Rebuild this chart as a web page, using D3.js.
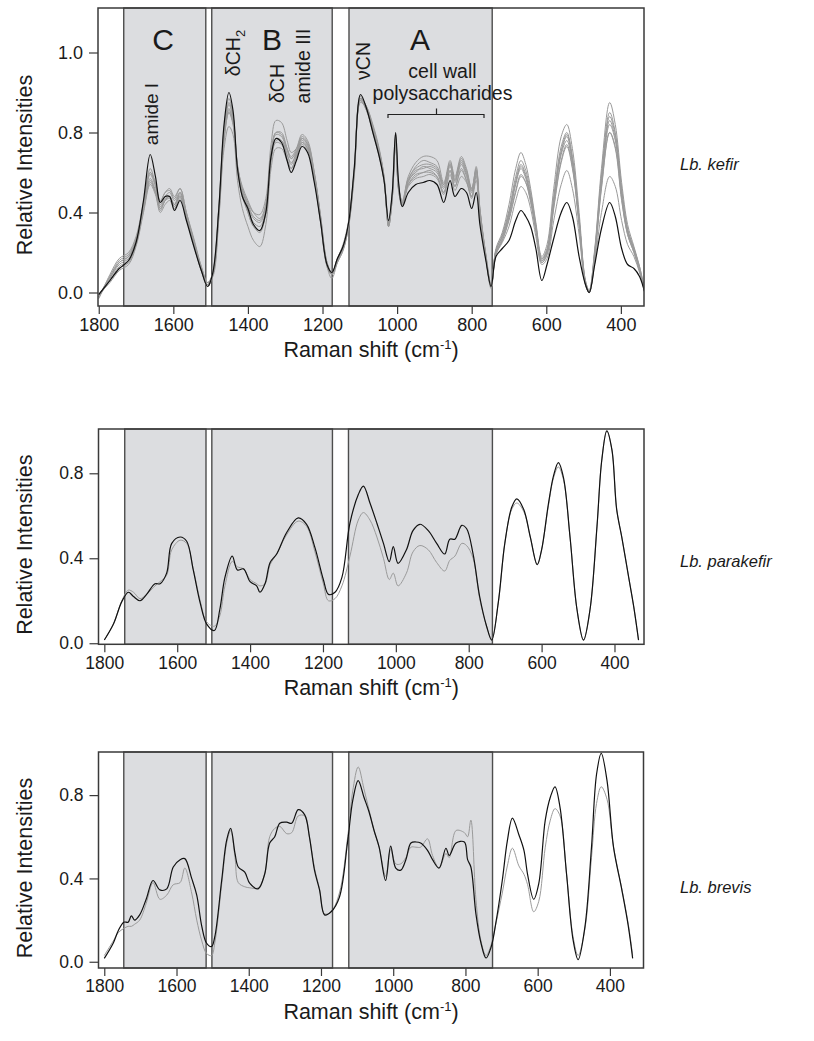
<!DOCTYPE html>
<html>
<head>
<meta charset="utf-8">
<script src="https://cdn.jsdelivr.net/npm/d3@7"></script>
<style>
body { margin: 0; background: #fff; }
svg text { font-family: "Liberation Sans", Arial, Helvetica, sans-serif; fill: #1a1a1a; }
</style>
</head>
<body>
<svg id="chart" width="814" height="1041"></svg>
<script>
// ---- data ----
var xTicks = [1800, 1600, 1400, 1200, 1000, 800, 600, 400]
var yTicksTop = [0, 0.4, 0.8, 1.2]
var yTickLabelsTop = ["0.0", "0.4", "0.8", "1.0"]
var yTicks = [0, 0.4, 0.8]
var yTickLabels = ["0.0", "0.4", "0.8"]
var regionNames = ["C", "B", "A"]

// Lb. kefir
var kefirShift = [1800,1770,1745,1720,1700,1680,1662,1648,1635,1622,1610,1597,1582,1565,1545,1525,1508,1494,1478,1464,
    1451,1440,1428,1415,1400,1385,1368,1352,1338,1325,1310,1295,1284,1270,1255,1240,1222,1205,1188,1175,
    1160,1145,1130,1115,1098,1082,1065,1048,1035,1023,1013,1004,996,986,970,950,930,912,893,875,
    858,845,828,814,800,788,778,762,748,735,718,700,682,668,655,642,628,612,598,580,
    560,545,530,512,495,485,470,452,430,415,398,382,365,350,336]
var kefirBlack = [-0.01,0.06,0.12,0.16,0.25,0.46,0.69,0.58,0.45,0.48,0.48,0.41,0.46,0.36,0.23,0.11,0.03,0.10,0.42,0.84,
    1.00,0.91,0.62,0.48,0.42,0.34,0.31,0.40,0.68,0.77,0.75,0.66,0.60,0.66,0.73,0.70,0.55,0.35,0.14,0.10,
    0.17,0.23,0.35,0.62,0.99,0.92,0.80,0.68,0.56,0.36,0.50,0.80,0.55,0.43,0.50,0.54,0.55,0.56,0.54,0.45,
    0.56,0.48,0.52,0.50,0.42,0.50,0.34,0.16,0.03,0.18,0.22,0.26,0.36,0.41,0.38,0.33,0.22,0.06,0.14,0.27,
    0.40,0.45,0.38,0.18,0.04,0.00,0.14,0.32,0.45,0.38,0.22,0.14,0.12,0.08,0.00]
var kefirGray1 = [-0.03,0.08,0.16,0.19,0.27,0.44,0.60,0.54,0.45,0.50,0.51,0.47,0.52,0.40,0.27,0.13,0.05,0.10,0.38,0.76,
    0.90,0.85,0.64,0.52,0.45,0.40,0.39,0.47,0.74,0.86,0.85,0.76,0.70,0.72,0.78,0.75,0.60,0.38,0.15,0.10,
    0.17,0.24,0.36,0.61,0.97,0.93,0.84,0.72,0.58,0.33,0.47,0.74,0.52,0.46,0.58,0.65,0.68,0.68,0.66,0.55,
    0.66,0.58,0.68,0.62,0.52,0.62,0.42,0.19,0.04,0.22,0.30,0.44,0.62,0.70,0.64,0.52,0.35,0.18,0.24,0.52,
    0.78,0.84,0.72,0.40,0.06,0.01,0.22,0.62,0.95,0.84,0.55,0.34,0.23,0.13,0.01]
var kefirGray2 = [-0.02,0.07,0.15,0.18,0.26,0.42,0.56,0.50,0.41,0.46,0.48,0.44,0.50,0.39,0.26,0.12,0.04,0.09,0.40,0.80,
    0.95,0.88,0.63,0.50,0.40,0.33,0.30,0.40,0.66,0.76,0.76,0.69,0.64,0.70,0.77,0.74,0.59,0.37,0.14,0.09,
    0.16,0.22,0.34,0.60,0.97,0.92,0.81,0.69,0.57,0.34,0.48,0.77,0.52,0.44,0.56,0.60,0.63,0.62,0.60,0.52,
    0.64,0.55,0.64,0.58,0.50,0.61,0.40,0.18,0.03,0.21,0.28,0.39,0.55,0.63,0.58,0.48,0.33,0.17,0.21,0.46,
    0.70,0.78,0.66,0.36,0.05,0.00,0.20,0.56,0.86,0.77,0.50,0.31,0.21,0.12,0.00]
var kefirGray3 = [-0.01,0.05,0.11,0.14,0.23,0.40,0.54,0.49,0.40,0.44,0.46,0.42,0.47,0.37,0.24,0.11,0.05,0.08,0.37,0.72,
    0.83,0.79,0.56,0.42,0.33,0.26,0.23,0.34,0.62,0.72,0.72,0.66,0.62,0.68,0.74,0.71,0.56,0.35,0.13,0.07,
    0.15,0.21,0.33,0.59,0.96,0.91,0.80,0.68,0.56,0.35,0.49,0.78,0.53,0.45,0.54,0.59,0.60,0.61,0.58,0.50,
    0.61,0.53,0.62,0.56,0.48,0.59,0.39,0.17,0.02,0.19,0.26,0.36,0.50,0.58,0.55,0.46,0.31,0.15,0.19,0.42,
    0.65,0.73,0.62,0.34,0.04,0.00,0.18,0.52,0.80,0.72,0.46,0.29,0.20,0.11,0.00]
var kefirGray4 = [-0.02,0.08,0.15,0.18,0.26,0.44,0.59,0.53,0.44,0.48,0.50,0.46,0.50,0.39,0.25,0.12,0.04,0.10,0.42,0.80,
    0.94,0.87,0.62,0.51,0.44,0.38,0.36,0.44,0.70,0.79,0.78,0.71,0.67,0.71,0.77,0.74,0.58,0.36,0.15,0.10,
    0.16,0.23,0.35,0.61,0.97,0.92,0.82,0.70,0.57,0.33,0.47,0.75,0.51,0.43,0.55,0.61,0.62,0.63,0.61,0.53,
    0.63,0.56,0.65,0.59,0.51,0.60,0.41,0.18,0.03,0.20,0.27,0.38,0.54,0.62,0.57,0.47,0.32,0.16,0.20,0.45,
    0.69,0.76,0.65,0.35,0.05,0.00,0.19,0.55,0.84,0.76,0.49,0.30,0.21,0.12,0.00]
var kefirGray5 = [-0.02,0.06,0.13,0.16,0.24,0.42,0.57,0.51,0.42,0.46,0.48,0.44,0.48,0.37,0.24,0.11,0.03,0.09,0.41,0.79,
    0.92,0.85,0.61,0.49,0.41,0.35,0.33,0.41,0.67,0.77,0.76,0.69,0.65,0.69,0.75,0.72,0.57,0.36,0.14,0.09,
    0.16,0.22,0.34,0.60,0.96,0.91,0.81,0.69,0.56,0.34,0.48,0.76,0.52,0.44,0.53,0.57,0.58,0.59,0.57,0.49,
    0.59,0.51,0.58,0.55,0.47,0.56,0.38,0.17,0.03,0.19,0.25,0.33,0.46,0.53,0.50,0.42,0.28,0.14,0.17,0.36,
    0.54,0.61,0.52,0.29,0.04,0.00,0.15,0.40,0.58,0.53,0.36,0.24,0.18,0.10,0.00]
var kefirGray6 = [-0.03,0.09,0.17,0.20,0.28,0.45,0.60,0.55,0.46,0.50,0.52,0.48,0.52,0.40,0.26,0.13,0.05,0.09,0.39,0.77,
    0.90,0.84,0.63,0.53,0.46,0.40,0.37,0.44,0.69,0.80,0.79,0.72,0.68,0.72,0.79,0.76,0.60,0.38,0.15,0.09,
    0.15,0.21,0.33,0.58,0.95,0.92,0.83,0.71,0.58,0.35,0.49,0.77,0.53,0.45,0.57,0.62,0.64,0.64,0.62,0.54,
    0.64,0.56,0.66,0.60,0.51,0.63,0.41,0.19,0.04,0.21,0.29,0.41,0.58,0.66,0.61,0.50,0.34,0.17,0.22,0.48,
    0.73,0.80,0.68,0.37,0.06,0.01,0.21,0.59,0.90,0.80,0.52,0.32,0.22,0.13,0.01]
var kefirGray7 = [-0.01,0.06,0.12,0.15,0.24,0.43,0.62,0.54,0.43,0.47,0.48,0.43,0.48,0.37,0.24,0.11,0.03,0.10,0.43,0.82,
    0.97,0.89,0.61,0.48,0.40,0.33,0.31,0.39,0.66,0.75,0.74,0.67,0.62,0.68,0.75,0.72,0.57,0.35,0.13,0.09,
    0.17,0.23,0.35,0.61,0.98,0.92,0.81,0.69,0.56,0.34,0.50,0.79,0.54,0.45,0.54,0.58,0.60,0.60,0.58,0.50,
    0.61,0.53,0.61,0.56,0.48,0.58,0.39,0.17,0.03,0.20,0.26,0.37,0.51,0.59,0.55,0.45,0.31,0.15,0.19,0.43,
    0.66,0.74,0.63,0.34,0.04,0.00,0.18,0.53,0.80,0.73,0.47,0.29,0.20,0.11,0.00]
var kefirGray8 = [-0.02,0.07,0.14,0.17,0.25,0.41,0.55,0.50,0.42,0.46,0.47,0.44,0.49,0.38,0.25,0.12,0.04,0.09,0.40,0.78,
    0.91,0.86,0.63,0.51,0.43,0.37,0.35,0.43,0.69,0.80,0.80,0.72,0.67,0.70,0.76,0.73,0.59,0.37,0.14,0.10,
    0.17,0.22,0.34,0.60,0.97,0.93,0.83,0.71,0.57,0.33,0.47,0.74,0.51,0.43,0.56,0.63,0.66,0.65,0.63,0.54,
    0.65,0.57,0.67,0.61,0.52,0.61,0.42,0.18,0.03,0.21,0.28,0.40,0.56,0.64,0.59,0.48,0.33,0.16,0.21,0.47,
    0.71,0.79,0.67,0.36,0.05,0.00,0.20,0.57,0.88,0.79,0.51,0.31,0.22,0.12,0.00]
var kefirRegions = [[1733, 1513], [1497, 1174], [1129, 745]]

// Lb. parakefir
var parakefirShift = [1800,1775,1752,1734,1720,1702,1684,1661,1647,1629,1615,1592,1574,1556,1537,1519,1498,1483,1469,1449,
    1435,1418,1400,1382,1373,1359,1345,1327,1300,1268,1245,1222,1199,1185,1167,1148,1126,1103,1089,1071,
    1052,1034,1018,1007,994,971,953,934,911,888,866,852,838,819,806,788,770,751,737,719,
    701,682,668,649,631,612,600,581,567,554,540,522,503,485,467,448,435,421,407,394,
    380,361,347,334]
var parakefirBlack = [0.015,0.09,0.196,0.24,0.22,0.20,0.23,0.28,0.28,0.33,0.47,0.50,0.48,0.345,0.19,0.09,0.06,0.16,0.31,0.41,
    0.345,0.35,0.29,0.27,0.24,0.28,0.38,0.42,0.52,0.59,0.56,0.45,0.30,0.23,0.24,0.31,0.565,0.70,0.74,0.66,
    0.565,0.47,0.384,0.455,0.376,0.44,0.53,0.56,0.53,0.47,0.42,0.49,0.49,0.555,0.54,0.42,0.22,0.08,0.015,0.19,
    0.47,0.64,0.68,0.63,0.50,0.37,0.44,0.66,0.79,0.85,0.78,0.50,0.16,0.015,0.16,0.55,0.86,1.00,0.91,0.63,
    0.50,0.31,0.17,0.015]
var parakefirGray = [0.015,0.09,0.20,0.25,0.24,0.21,0.23,0.27,0.29,0.32,0.44,0.485,0.47,0.35,0.20,0.10,0.08,0.13,0.27,0.385,
    0.36,0.35,0.30,0.28,0.27,0.28,0.37,0.42,0.51,0.575,0.55,0.43,0.28,0.20,0.21,0.27,0.41,0.58,0.615,0.58,
    0.50,0.40,0.30,0.33,0.27,0.33,0.43,0.46,0.44,0.38,0.34,0.39,0.41,0.47,0.46,0.40,0.21,0.08,0.02,0.19,
    0.47,0.63,0.66,0.62,0.50,0.37,0.44,0.65,0.78,0.83,0.77,0.50,0.16,0.015,0.16,0.55,0.86,1.00,0.91,0.63,
    0.50,0.31,0.17,0.015]
var parakefirRegions = [[1744, 1521], [1505, 1174], [1130, 735]]

// Lb. brevis
var brevisShift = [1800,1775,1761,1746,1734,1725,1716,1702,1684,1665,1646,1627,1609,1590,1577,1558,1544,1530,1517,1503,
    1494,1475,1461,1450,1438,1429,1411,1397,1374,1356,1342,1328,1314,1295,1281,1263,1245,1232,1218,1204,
    1190,1172,1149,1126,1112,1097,1081,1067,1053,1039,1021,1007,993,979,965,951,937,924,905,891,
    873,854,845,826,803,794,785,771,757,743,729,716,698,684,670,652,638,628,611,597,
    579,565,552,538,520,502,488,469,451,437,424,408,390,367,349,337]
var brevisBlack = [0.016,0.09,0.15,0.19,0.19,0.22,0.20,0.225,0.30,0.39,0.345,0.35,0.455,0.49,0.495,0.40,0.32,0.17,0.09,0.073,
    0.12,0.39,0.585,0.64,0.52,0.455,0.43,0.376,0.35,0.42,0.57,0.60,0.665,0.67,0.665,0.73,0.705,0.60,0.44,0.345,
    0.225,0.24,0.31,0.58,0.775,0.87,0.79,0.72,0.63,0.55,0.39,0.555,0.45,0.44,0.49,0.57,0.575,0.57,0.535,0.49,
    0.45,0.545,0.51,0.57,0.575,0.49,0.455,0.23,0.09,0.018,0.07,0.185,0.39,0.58,0.69,0.61,0.535,0.42,0.30,0.375,
    0.68,0.79,0.84,0.74,0.42,0.105,0.01,0.17,0.55,0.90,1.00,0.87,0.55,0.345,0.17,0.016]
var brevisGray = [0.03,0.10,0.14,0.16,0.17,0.17,0.18,0.20,0.28,0.38,0.30,0.32,0.37,0.38,0.45,0.33,0.20,0.10,0.04,0.03,
    0.09,0.37,0.57,0.63,0.50,0.38,0.36,0.355,0.355,0.42,0.60,0.64,0.65,0.615,0.62,0.70,0.70,0.60,0.45,0.35,
    0.23,0.24,0.33,0.60,0.82,0.935,0.83,0.73,0.63,0.55,0.41,0.54,0.47,0.47,0.50,0.55,0.55,0.55,0.59,0.51,
    0.45,0.52,0.50,0.63,0.62,0.60,0.68,0.30,0.10,0.03,0.08,0.18,0.33,0.46,0.545,0.46,0.42,0.37,0.24,0.29,
    0.55,0.68,0.735,0.70,0.42,0.12,0.03,0.16,0.50,0.76,0.84,0.78,0.55,0.35,0.18,0.03]
var brevisRegions = [[1746, 1518], [1502, 1168], [1123, 725]]

function print(x) {
    console.log(x)
}

function pairs(xs, ys) {
    var out = []
    for (var i = 0; i < xs.length; i++) {
        out.push({w: xs[i], v: ys[i]})
    }
    return out
}

var gray = "#9a9a9a"
var black = "#111"

var panels = [
    {
        id: "kefir", left: 98, right: 644, top: 8, bottom: 306,
        xDomain: [1802, 338], yDomain: [-0.0675, 1.4225],
        yTicks: yTicksTop, yLabels: yTickLabelsTop, tickFont: 18,
        regions: kefirRegions, label: "Lb. kefir", labelY: 170,
        series: [kefirGray1, kefirGray2, kefirGray3, kefirGray4, kefirGray5, kefirGray6, kefirGray7, kefirGray8]
            .map(function (s) { return {data: pairs(kefirShift, s), color: gray, width: 1} })
            .concat([{data: pairs(kefirShift, kefirBlack), color: black, width: 1.2}])
    },
    {
        id: "parakefir", left: 98.5, right: 644, top: 429, bottom: 644.3,
        xDomain: [1816, 319], yDomain: [-0.005, 1.0085],
        yTicks: yTicks, yLabels: yTickLabels, tickFont: 17.5,
        regions: parakefirRegions, label: "Lb. parakefir", labelY: 567,
        series: [
            {data: pairs(parakefirShift, parakefirGray), color: gray, width: 1},
            {data: pairs(parakefirShift, parakefirBlack), color: black, width: 1.2}
        ]
    },
    {
        id: "brevis", left: 98.5, right: 643.5, top: 752, bottom: 968,
        xDomain: [1816, 307], yDomain: [-0.03, 1.007],
        yTicks: yTicks, yLabels: yTickLabels, tickFont: 17.5,
        regions: brevisRegions, label: "Lb. brevis", labelY: 893,
        series: [
            {data: pairs(brevisShift, brevisGray), color: gray, width: 1},
            {data: pairs(brevisShift, brevisBlack), color: black, width: 1.2}
        ]
    }
]

var svg = d3.select("#chart")

function drawPanel(p) {
    var x = d3.scaleLinear().domain(p.xDomain).range([p.left, p.right])
    var y = d3.scaleLinear().domain(p.yDomain).range([p.bottom, p.top])
    var g = svg.append("g").attr("class", "panel-" + p.id)

    // clip to the plot box
    g.append("clipPath").attr("id", "clip-" + p.id)
        .append("rect")
        .attr("x", p.left).attr("y", p.top)
        .attr("width", p.right - p.left).attr("height", p.bottom - p.top)

    // shaded spectral regions
    g.selectAll("rect.region")
        .data(p.regions)
        .enter().append("rect")
        .attr("class", "region")
        .attr("x", function (d) { return x(d[0]) })
        .attr("width", function (d) { return x(d[1]) - x(d[0]) })
        .attr("y", p.top)
        .attr("height", p.bottom - p.top)
        .attr("fill", "#dcdde0")
        .attr("stroke", "#4d4d4d")
        .attr("stroke-width", 1.4)

    var line = d3.line()
        .x(function (d) { return x(d.w) })
        .y(function (d) { return y(d.v) })
        .curve(d3.curveCatmullRom.alpha(0.5))

    var curves = g.append("g").attr("clip-path", "url(#clip-" + p.id + ")")
    p.series.forEach(function (s) {
        curves.append("path")
            .datum(s.data)
            .attr("fill", "none")
            .attr("stroke", s.color)
            .attr("stroke-width", s.width)
            .attr("stroke-linejoin", "round")
            .attr("d", line)
    })

    // box
    g.append("rect")
        .attr("x", p.left).attr("y", p.top)
        .attr("width", p.right - p.left).attr("height", p.bottom - p.top)
        .attr("fill", "none")
        .attr("stroke", "#3a3a3a")
        .attr("stroke-width", 1.5)

    // axes
    var xAxis = g.append("g")
        .attr("transform", "translate(0," + p.bottom + ")")
        .call(d3.axisBottom(x).tickValues(xTicks).tickSize(8).tickPadding(4)
            .tickFormat(d3.format("d")))
    var yAxis = g.append("g")
        .attr("transform", "translate(" + p.left + ",0)")
        .call(d3.axisLeft(y).tickValues(p.yTicks).tickSize(9).tickPadding(6)
            .tickFormat(function (d, i) { return p.yLabels[i] }))
    ;[xAxis, yAxis].forEach(function (a) {
        a.select(".domain").remove()
        a.selectAll("line").attr("stroke", "#3a3a3a").attr("stroke-width", 1.2)
        a.selectAll("text").attr("font-size", p.tickFont).attr("fill", "#1a1a1a")
            .attr("font-family", '"Liberation Sans", Arial, sans-serif')
    })

    // axis titles
    var xt = g.append("text")
        .attr("x", (p.left + p.right) / 2)
        .attr("y", p.bottom + 51)
        .attr("text-anchor", "middle")
        .attr("font-size", 21.5)
    xt.append("tspan").text("Raman shift (cm")
    xt.append("tspan").attr("font-size", 13).attr("dy", -8).text("-1")
    xt.append("tspan").attr("dy", 8).text(")")

    g.append("text")
        .attr("transform", "translate(32," + ((p.top + p.bottom) / 2 + 8) + ") rotate(-90)")
        .attr("text-anchor", "middle")
        .attr("font-size", 21.5)
        .text("Relative Intensities")

    // strain label
    g.append("text")
        .attr("x", 680)
        .attr("y", p.labelY)
        .attr("font-size", 16.5)
        .attr("font-style", "italic")
        .text(p.label)

    return {x: x, y: y, g: g}
}

var drawn = panels.map(drawPanel)

// annotations on the first panel
var annot = drawn[0].g
var letterX = [163, 272, 420]
annot.selectAll("text.region-name")
    .data(regionNames)
    .enter().append("text")
    .attr("class", "region-name")
    .attr("x", function (d, i) { return letterX[i] })
    .attr("y", 50)
    .attr("text-anchor", "middle")
    .attr("font-size", 30)
    .text(function (d) { return d })

function vertical(txt, bx, cy, size) {
    return annot.append("text")
        .attr("transform", "translate(" + bx + "," + cy + ") rotate(-90)")
        .attr("text-anchor", "middle")
        .attr("font-size", size)
        .text(txt)
}
vertical("amide I", 158, 114, 19)
var ch2 = vertical("δCH", 240, 53, 19.5)
ch2.append("tspan").attr("font-size", 13).attr("dy", 5).text("2")
vertical("δCH", 284, 83.5, 19.5)
vertical("amide III", 310, 66, 19.5)
vertical("νCN", 370, 61, 19.5)

annot.append("text").attr("x", 442.5).attr("y", 78).attr("text-anchor", "middle")
    .attr("font-size", 19.5).text("cell wall")
annot.append("text").attr("x", 442.5).attr("y", 100).attr("text-anchor", "middle")
    .attr("font-size", 19.5).text("polysaccharides")
annot.append("path")
    .attr("d", "M388,118V114.5H484V118M436.5,114.5V108.5")
    .attr("fill", "none")
    .attr("stroke", "#222")
    .attr("stroke-width", 1.2)
</script>
</body>
</html>
